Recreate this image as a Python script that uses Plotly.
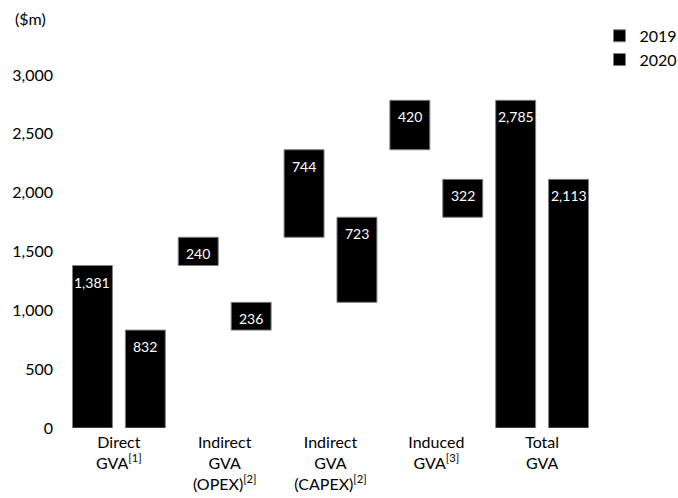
import plotly.graph_objects as go

categories = ["Direct<br>GVA<sup>[1]</sup>", "Indirect<br>GVA<br>(OPEX)<sup>[2]</sup>",
              "Indirect<br>GVA<br>(CAPEX)<sup>[2]</sup>", "Induced<br>GVA<sup>[3]</sup>", "Total<br>GVA"]
values_2019 = [1381, 240, 744, 420, 2785]
values_2020 = [832, 236, 723, 322, 2113]
is_total = [False, False, False, False, True]
y_ticks = [0, 500, 1000, 1500, 2000, 2500, 3000]


def bases(vals, totals):
    out, run = [], 0
    for v, t in zip(vals, totals):
        if t:
            out.append(0)
        else:
            out.append(run)
            run += v
    return out


FONT = "Lato"
fig = go.Figure()
annos = []
for name, vals, shift in [("2019", values_2019, -26.5), ("2020", values_2020, 26.5)]:
    b = bases(vals, is_total)
    fig.add_trace(go.Bar(
        name=name, x=categories, y=vals, base=b,
        marker=dict(color="#000000", line=dict(color="#808080", width=1)),
        hoverinfo="skip",
    ))
    for c, v, bb in zip(categories, vals, b):
        annos.append(dict(x=c, y=bb + v, xref="x", yref="y", xshift=shift, yshift=-6,
                          text=f"{v:,}", showarrow=False, xanchor="center", yanchor="top",
                          font=dict(color="white", size=14, family=FONT)))

annos.append(dict(text="($m)", xref="paper", yref="paper", x=-0.101, y=1.161,
                  xanchor="left", yanchor="middle", showarrow=False,
                  font=dict(size=16, family=FONT)))

fig.update_layout(
    width=678, height=498,
    margin=dict(l=65.5, r=82.5, t=75, b=70, autoexpand=False),
    barmode="group", bargap=0, bargroupgap=0.245,
    plot_bgcolor="white", paper_bgcolor="white",
    font=dict(family=FONT, size=16, color="#000000"),
    showlegend=True,
    legend=dict(x=1.0085, y=1.159, xanchor="left", yanchor="top",
                font=dict(size=16, family=FONT), traceorder="normal",
                bgcolor="rgba(0,0,0,0)"),
    annotations=annos,
)
fig.update_xaxes(showline=False, showgrid=False, zeroline=False, ticks="",
                 ticklabelstandoff=3, tickfont=dict(size=16, family=FONT))
fig.update_yaxes(range=[0, 3000], tickvals=y_ticks, tickformat=",", showline=False,
                 showgrid=False, zeroline=False, ticks="", ticklabelstandoff=12,
                 tickfont=dict(size=16, family=FONT))

fig.write_html("out.html")
